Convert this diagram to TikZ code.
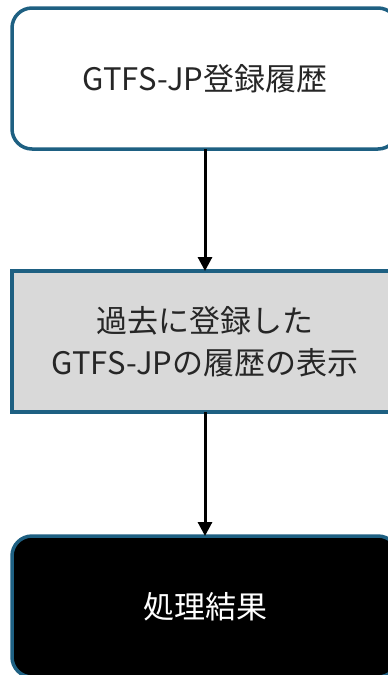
\documentclass[tikz,border=0pt]{standalone}
\usepackage{fontspec}
\setmainfont{Noto Sans CJK JP}
\usepackage{tikz}
\usetikzlibrary{arrows.meta,positioning}
\usepackage{xcolor}
\definecolor{boxline}{RGB}{30,96,130}
\definecolor{boxgray}{RGB}{217,217,217}
\definecolor{textgray}{RGB}{38,38,38}

\begin{document}
\begin{tikzpicture}[
    x=1pt, y=1pt,
    node distance=122pt,
    every node/.style={
        draw=boxline,
        line width=3.5pt,
        minimum width=386pt,
        minimum height=141pt,
        outer sep=0pt,
        align=center,
        font=\fontsize{31}{42}\selectfont
    },
    roundbox/.style={rounded corners=20pt, fill=white, text=textgray},
    procbox/.style={fill=boxgray, text=textgray},
    resultbox/.style={rounded corners=20pt, fill=black, text=white},
    flow/.style={draw, line width=3pt, -{Triangle[length=14pt,width=14pt]}}
]

% -------- Frame --------
\useasboundingbox (0,0) rectangle (388,-675);
\clip (0,0) rectangle (388,-675);

% -------- Boxes --------
\node[roundbox] (history) at (205,-78.5) {GTFS-JP登録履歴};
\node[procbox, below=of history] (show) {過去に登録した\\GTFS-JPの履歴の表示};
\node[resultbox, below=124pt of show] (result) {処理結果};

% -------- Arrows --------
\draw[flow] (history) -- (show);
\draw[flow] (show) -- (result);

\end{tikzpicture}
\end{document}
